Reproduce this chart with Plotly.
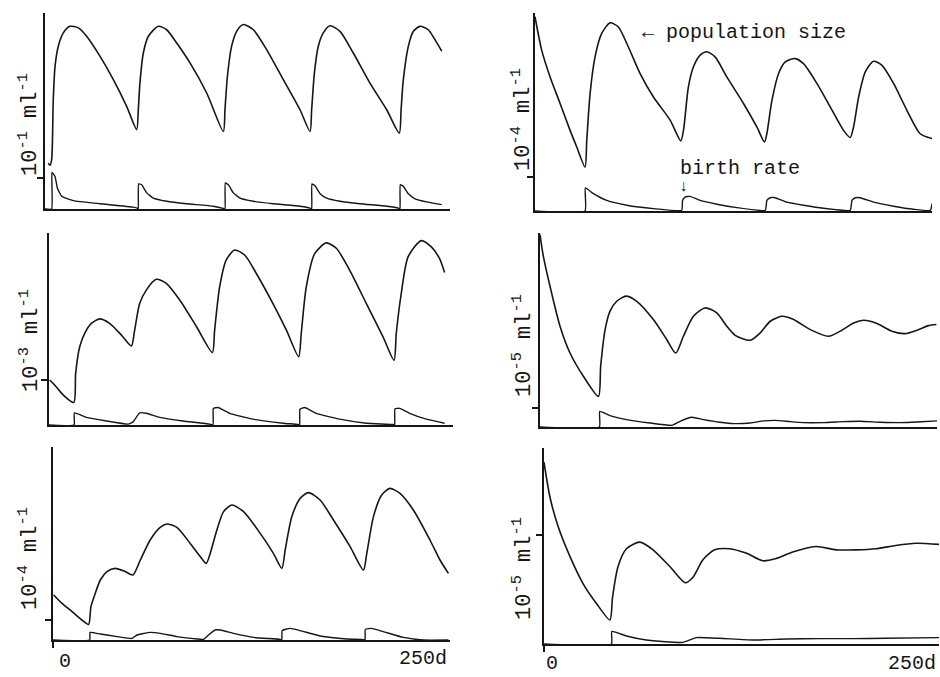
import plotly.graph_objects as go

# ---------------- data (days, value in units of the axis tick) ----------------
p1_day = [2, 3.1, 4.1, 5.1, 6.2, 8.2, 11.3, 15.4, 20.6, 25.7, 34, 42.2, 50.4, 56.6, 57.6, 58.6, 60.7, 63.8, 70, 75.1,
          81.3, 89.5, 99.8, 110.1, 111.1, 112.6, 115.2, 118.3, 122.4, 128.6, 136.8, 147.1, 157.4, 163.6, 164.6, 166.3,
          168.7, 171.8, 175.9, 182.1, 190.3, 200.6, 210.9, 218.7, 219.8, 221.2, 224.3, 227.4, 231.5, 236.6, 240.7, 244.9]
p1_pop = [1.48, 1.41, 1.59, 3.53, 4.6, 5.25, 5.68, 5.89, 5.84, 5.57, 4.92, 4.17, 3.31, 2.56, 3.2, 4.06, 5.03, 5.57, 5.89, 5.78,
          5.35, 4.71, 3.74, 2.5, 3.2, 4.28, 5.25, 5.73, 5.95, 5.78, 5.14, 4.17, 3.2, 2.5, 3.2, 4.39,
          5.25, 5.68, 5.91, 5.73, 5.03, 4.06, 3.2, 2.45, 3.2, 4.17, 5.25, 5.73, 5.89, 5.78, 5.46, 5.09]
p1_bday = [0, 4.1, 4.3, 6.2, 7.6, 10.3, 17.5, 34, 54.5, 57.2, 57.6, 57.8, 59.7, 62.8, 66.9, 75.1, 87.4, 103.9, 110, 111.1,
           111.3, 113.2, 116.3, 120.4, 128.6, 141, 157.4, 163.6, 164.6, 164.8, 166.7, 169.8, 173.9, 182.1, 194.4, 210.9,
           218.1, 219.1, 219.3, 221.2, 224.3, 228.4, 235.6, 244.9]
p1_birth = [0, 0, 1.18, 1.05, 0.68, 0.41, 0.27, 0.17, 0.06, 0.02, 0, 0.81, 0.78, 0.52, 0.35, 0.25, 0.17, 0.09, 0.02, 0,
            0.84, 0.78, 0.52, 0.35, 0.25, 0.17, 0.09, 0.03, 0, 0.81, 0.75, 0.49, 0.35, 0.25, 0.17, 0.09,
            0.03, 0, 0.78, 0.73, 0.49, 0.33, 0.23, 0.14]

p2_day = [0, 4.2, 9.5, 15.8, 22.1, 26.3, 31.5, 32.6, 34.7, 37.8, 42, 47.3, 52.5, 58.8, 66.2, 74.6, 85.1, 91.8, 93.5, 96.6,
          99.8, 104, 108.2, 113.4, 120.8, 131.3, 139.7, 144.5, 146, 149.2, 153.4, 157.6, 163.9, 169.1, 177.5, 185.9,
          194.3, 198.5, 200.6, 203.8, 208, 213.2, 218.5, 225.8, 234.2, 242.6, 250]
p2_pop = [5.71, 4.73, 3.94, 3.16, 2.37, 1.88, 1.29, 2.08, 3.45, 4.53, 5.22, 5.53, 5.41, 4.82, 4.04, 3.35, 2.67, 2.06, 2.37, 3.65,
          4.24, 4.58, 4.68, 4.53, 3.94, 3.16, 2.47, 2.03, 2.27, 3.25, 4.04, 4.38, 4.48, 4.33, 3.75, 3.06,
          2.37, 2.16, 2.47, 3.35, 4.09, 4.4, 4.28, 3.75, 2.96, 2.27, 2.13]
p2_bday = [0, 31.5, 31.7, 36.8, 45.2, 57.8, 74.6, 92.4, 92.9, 94.5, 97.7, 104, 114.5, 127.1, 145, 146, 148.1, 151.3,
           158.6, 169.1, 181.7, 198.5, 199.6, 201.7, 204.8, 213.2, 225.8, 238.4, 249, 250]
p2_birth = [0, 0, 0.68, 0.51, 0.31, 0.17, 0.07, 0.02, 0.31, 0.41, 0.43, 0.31, 0.2, 0.1, 0.02, 0.31, 0.39, 0.39,
            0.26, 0.17, 0.08, 0.02, 0.31, 0.39, 0.39, 0.26, 0.14, 0.05, 0.02, 0.22]

p3_day = [0.4, 3.5, 8.7, 15.3, 16.5, 19, 22.1, 26.2, 31.4, 37.5, 44.8, 51, 53, 56.1, 60.2, 66.4, 72.6, 80.9, 91.2, 101.1,
          102.5, 105.6, 109.7, 114.9, 121.1, 128.3, 138.6, 146.9, 154.5, 156.1, 159.2, 164.4, 171.6, 177.8, 186.1,
          196.4, 206.7, 213.5, 214.9, 218, 222.2, 230.4, 236.6, 241.7, 244.8]
p3_pop = [1.0, 0.89, 0.67, 0.5, 1.15, 1.74, 2.04, 2.26, 2.36, 2.26, 2.0, 1.76, 2.11, 2.7, 3.0, 3.24, 3.15, 2.78, 2.19, 1.61,
          2.11, 3.07, 3.67, 3.89, 3.78, 3.37, 2.7, 2.11, 1.52, 2.04, 3.07, 3.81, 4.05, 3.93, 3.44,
          2.7, 1.96, 1.44, 2.04, 2.93, 3.74, 4.1, 3.96, 3.7, 3.39]
p3_bday = [0, 15.5, 15.7, 23.1, 35.5, 48.9, 52, 56.1, 60.2, 68.5, 82.9, 99.4, 101.5, 101.7, 104.6, 111.8, 126.2, 144.8,
           154.1, 155.1, 155.3, 158.2, 165.4, 179.9, 196.4, 212.9, 213.9, 214.1, 217, 223.2, 233.5, 244.8]
p3_birth = [0, 0, 0.27, 0.17, 0.09, 0.02, 0.07, 0.27, 0.26, 0.17, 0.09, 0.02, 0, 0.37, 0.39, 0.26, 0.13, 0.04,
            0.01, 0, 0.35, 0.39, 0.26, 0.13, 0.04, 0.01, 0, 0.36, 0.37, 0.26, 0.13, 0.04]

p4_day = [0, 2.1, 6.3, 12.6, 18.9, 27.3, 36.8, 38.2, 41, 44.1, 48.3, 54.2, 60.9, 71.4, 79.8, 85.5, 90.3, 96.6, 104, 111.3,
          117.6, 122.9, 132.4, 138.7, 145, 152.3, 159.7, 170.2, 181.7, 189.1, 197.5, 203.8, 212.2, 221.6, 230, 237.4,
          244.7, 249.6]
p4_pop = [10.12, 8.98, 7.4, 5.3, 3.89, 2.67, 1.61, 3.19, 5.12, 6.09, 6.61, 6.88, 6.61, 5.65, 4.6, 3.89, 4.77, 5.82, 6.26, 6.0,
          5.3, 4.82, 4.56, 4.95, 5.56, 5.82, 5.65, 5.12, 4.77, 5.04, 5.47, 5.61, 5.44, 5.04, 4.91, 5.09,
          5.33, 5.39]
p4_bday = [0, 37.4, 37.6, 44.1, 54.6, 69.3, 83, 88.2, 95.6, 102.9, 113.4, 121.8, 132.4, 140.8, 148.1, 157.6, 166, 178.6,
           191.2, 201.7, 214.3, 226.9, 237.4, 250]
p4_birth = [0, 0, 0.82, 0.6, 0.39, 0.21, 0.09, 0.3, 0.51, 0.39, 0.25, 0.18, 0.21, 0.32, 0.35, 0.28, 0.23, 0.23,
            0.28, 0.3, 0.25, 0.23, 0.26, 0.32]

p5_day = [0.4, 5.7, 12, 18.2, 22.4, 23.9, 26.6, 29.8, 34, 39.2, 45.5, 50.3, 55, 61.2, 67.5, 71.7, 78, 86.4, 92.7, 96.5,
          99, 103.2, 107.4, 112.6, 120, 130.5, 138.8, 144.1, 146.2, 150.4, 155.6, 160.9, 168.2, 176.6, 187.1, 195.5,
          197.6, 201.8, 207, 212.2, 218.5, 226.9, 237.4, 243.7, 249]
p5_pop = [2.25, 1.83, 1.42, 1.0, 0.78, 1.67, 2.33, 3.0, 3.42, 3.58, 3.42, 3.25, 4.0, 5.0, 5.63, 5.8, 5.63, 4.83, 4.17, 3.83,
          4.33, 5.5, 6.42, 6.75, 6.42, 5.33, 4.33, 3.58, 4.5, 6.17, 7.08, 7.37, 7.0, 6.0, 4.67, 3.5,
          4.33, 6.17, 7.25, 7.58, 7.33, 6.5, 5.0, 4.0, 3.33]
p5_bday = [0, 23.1, 23.3, 29.8, 40.3, 49.7, 52.9, 61.2, 67.5, 78, 88.5, 94.8, 97.9, 102.1, 105.3, 113.7, 126.3, 143,
           144.1, 144.3, 149.3, 155.6, 168.2, 185, 195.5, 196.5, 196.7, 200.7, 208, 220.6, 233.2, 249]
p5_birth = [0, 0, 0.38, 0.3, 0.17, 0.08, 0.25, 0.38, 0.33, 0.17, 0.07, 0.03, 0.25, 0.5, 0.5, 0.33, 0.13, 0.03,
            0, 0.47, 0.58, 0.47, 0.2, 0.05, 0.02, 0, 0.53, 0.58, 0.42, 0.13, 0, 0]

p6_day = [0, 3.8, 9, 16.4, 24.8, 33.2, 41.7, 43.4, 46.9, 52.2, 60.6, 69, 79.5, 89.4, 94.3, 100.6, 108, 117.4, 127.9, 138.5,
          146.9, 157.4, 172.1, 184.8, 197.4, 210, 222.6, 235.3, 250]
p6_pop = [1.66, 1.34, 1.07, 0.8, 0.55, 0.37, 0.22, 0.43, 0.71, 0.87, 0.93, 0.86, 0.71, 0.56, 0.61, 0.77, 0.86, 0.87, 0.83, 0.76,
          0.78, 0.84, 0.89, 0.86, 0.86, 0.87, 0.9, 0.92, 0.91]
p6_bday = [0, 42.7, 42.9, 52.2, 64.8, 79.5, 88, 96.4, 111.1, 132.2, 153.2, 174.2, 195.3, 216.3, 250]
p6_birth = [0, 0, 0.115, 0.073, 0.036, 0.018, 0.015, 0.058, 0.052, 0.036, 0.046, 0.049, 0.049, 0.052, 0.058]

unit_labels = ["10<sup>-1</sup> ml<sup>-1</sup>", "10<sup>-4</sup> ml<sup>-1</sup>",
               "10<sup>-3</sup> ml<sup>-1</sup>", "10<sup>-5</sup> ml<sup>-1</sup>",
               "10<sup>-4</sup> ml<sup>-1</sup>", "10<sup>-5</sup> ml<sup>-1</sup>"]
x_tick_labels = ["0", "250d"]

# ---------------- layout geometry (pixels of a 940x677 canvas) ----------------
W, H = 940, 677
# (left, right, top, bottom, y-range top, label-x, label-y)
geom = [
    (45, 450, 13, 209, 6.32, 28, 125),
    (535, 932, 13, 211, 5.82, 522, 120),
    (49, 453, 233, 425, 4.27, 29, 341),
    (540, 937, 233, 427, 10.2, 522, 346),
    (53, 450, 447, 640, 9.65, 28, 559),
    (544, 939, 448, 644, 1.79, 522, 569),
]

panels = [(p1_day, p1_pop, p1_bday, p1_birth), (p2_day, p2_pop, p2_bday, p2_birth),
          (p3_day, p3_pop, p3_bday, p3_birth), (p4_day, p4_pop, p4_bday, p4_birth),
          (p5_day, p5_pop, p5_bday, p5_birth), (p6_day, p6_pop, p6_bday, p6_birth)]

FONT = "Liberation Mono, Courier New, monospace"
INK = "#161616"

fig = go.Figure()
layout = dict(width=W, height=H, margin=dict(l=0, r=0, t=0, b=0),
              paper_bgcolor="white", plot_bgcolor="white", showlegend=False)
annotations = []


def px(x):
    return x / W


def py(y):
    return 1 - y / H


for i, ((d, p, bd, b), g) in enumerate(zip(panels, geom)):
    k = i + 1
    xa = "x" if k == 1 else f"x{k}"
    ya = "y" if k == 1 else f"y{k}"
    fig.add_trace(go.Scatter(x=d, y=p, mode="lines", xaxis=xa, yaxis=ya,
                             line=dict(color=INK, width=1.6, shape="spline", smoothing=0.7),
                             hoverinfo="skip"))
    fig.add_trace(go.Scatter(x=bd, y=b, mode="lines", xaxis=xa, yaxis=ya,
                             line=dict(color=INK, width=1.4, shape="spline", smoothing=0.4),
                             hoverinfo="skip"))
    left, right, top, bottom, ytop, lx, ly = g
    bottom_row = k >= 5
    layout["xaxis" if k == 1 else f"xaxis{k}"] = dict(
        domain=[px(left), px(right)], range=[0, 250], anchor=ya,
        showline=True, linecolor=INK, linewidth=2, showgrid=False, zeroline=False,
        showticklabels=False, ticks="outside" if bottom_row else "",
        tickvals=[0], ticklen=6, tickwidth=1.5, tickcolor=INK, fixedrange=True)
    layout["yaxis" if k == 1 else f"yaxis{k}"] = dict(
        domain=[py(bottom), py(top)], range=[0, ytop], anchor=xa,
        showline=True, linecolor=INK, linewidth=2, showgrid=False, zeroline=False,
        showticklabels=False, ticks="outside", tickvals=[1], ticklen=6, tickwidth=1.5,
        tickcolor=INK, fixedrange=True)
    annotations.append(dict(x=px(lx), y=py(ly), xref="paper", yref="paper",
                            text=unit_labels[i], textangle=-90, showarrow=False,
                            xanchor="center", yanchor="middle",
                            font=dict(family=FONT, size=22, color=INK)))

# x-axis labels under the bottom panels and the two notes
annotations += [
    dict(x=px(65), y=py(661), text=x_tick_labels[0], xanchor="center", yanchor="middle"),
    dict(x=px(449), y=py(658), text=x_tick_labels[1], xanchor="right", yanchor="middle"),
    dict(x=px(552), y=py(663), text=x_tick_labels[0], xanchor="center", yanchor="middle"),
    dict(x=px(938), y=py(663), text=x_tick_labels[1], xanchor="right", yanchor="middle"),
    dict(x=px(640), y=py(33), text="← population size", xanchor="left", yanchor="middle"),
    dict(x=px(678), y=py(168), text="birth rate", xanchor="left", yanchor="middle"),
]
for a in annotations[-6:]:
    a.update(xref="paper", yref="paper", showarrow=False,
             font=dict(family=FONT, size=20, color=INK))
annotations.append(dict(x=px(684), y=py(187), xref="paper", yref="paper", text="↓",
                        showarrow=False, xanchor="center", yanchor="middle",
                        font=dict(family=FONT, size=16, color=INK)))

layout["annotations"] = annotations
fig.update_layout(**layout)
fig.write_html("out.html", config={"displayModeBar": False},
               post_script="document.body.style.margin='0px';document.body.style.overflow='hidden';")
